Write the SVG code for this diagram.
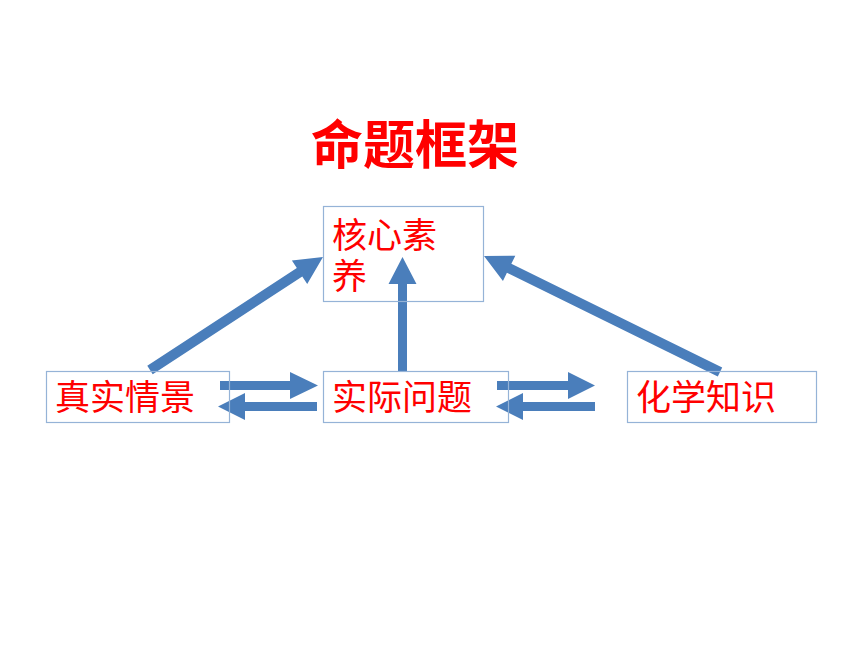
<svg xmlns="http://www.w3.org/2000/svg" width="860" height="645" viewBox="0 0 860 645">
<style>
.arrow{fill:#4A7EBB;stroke:none}
.box{fill:none;stroke:#95B3D7;stroke-width:1.2}
.lbl{font-family:"Noto Sans CJK SC","Noto Sans",sans-serif;fill:#FF0000;font-size:35px}
.title{font-family:"Noto Sans CJK SC","Noto Sans",sans-serif;fill:#FF0000;font-size:52px;font-weight:bold}
</style>
<rect width="860" height="645" fill="#ffffff"/>
<text class="title" x="415" y="164" text-anchor="middle">命题框架</text>
<g id="connectors">
<polygon class="arrow" points="147.27,365.81 296.83,268.12 291.90,260.59 323,257 307.22,284.03 302.29,276.50 152.73,374.19"/>
<polygon class="arrow" points="722.21,367.51 511.34,263.86 515.31,255.79 484,256 502.95,280.91 506.92,272.84 717.79,376.49"/>
<polygon class="arrow" points="398,371 398,284 388.5,284 402.5,257 416.5,284 407,284 407,371"/>
<polygon class="arrow" points="220,381 290,381 290,372 318,385.5 290,399 290,390 220,390"/>
<polygon class="arrow" points="317,402 245,402 245,393 218,406.5 245,420 245,411 317,411"/>
<polygon class="arrow" points="497,381 568,381 568,372 595,385.5 568,399 568,390 497,390"/>
<polygon class="arrow" points="595,402 523,402 523,393 496,406.5 523,420 523,411 595,411"/>
</g>
<g id="node-hexinsuyang">
<rect class="box" x="323.5" y="206.5" width="160" height="95"/>
<text class="lbl" x="332" y="248" font-size="34"><tspan x="332" y="248">核心素</tspan><tspan x="332" y="289">养</tspan></text>
</g>
<g id="node-zhenshiqingjing">
<rect class="box" x="46.5" y="371.5" width="183" height="51"/>
<text class="lbl" x="55" y="410">真实情景</text>
</g>
<g id="node-shijiwenti">
<rect class="box" x="323.5" y="371.5" width="185" height="51"/>
<text class="lbl" x="332" y="410">实际问题</text>
</g>
<g id="node-huaxuezhishi">
<rect class="box" x="627.5" y="371.5" width="189" height="51"/>
<text class="lbl" x="636" y="410">化学知识</text>
</g>
</svg>
